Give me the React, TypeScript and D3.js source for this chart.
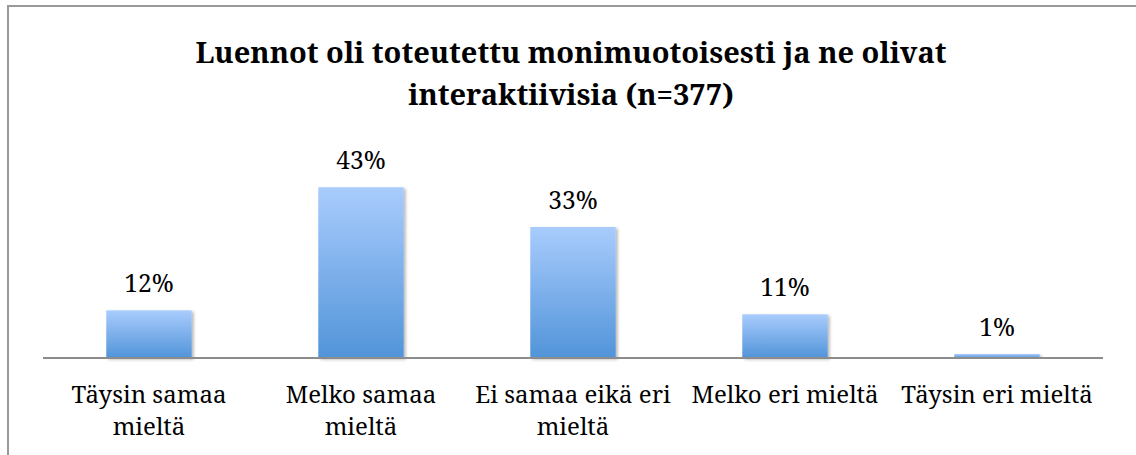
import React from "react";
import * as d3 from "d3";

const categories = [
  "Täysin samaa mieltä",
  "Melko samaa mieltä",
  "Ei samaa eikä eri mieltä",
  "Melko eri mieltä",
  "Täysin eri mieltä",
];
// how each category label wraps under the axis
const categoryLines = [
  ["Täysin samaa", "mieltä"],
  ["Melko samaa", "mieltä"],
  ["Ei samaa eikä eri", "mieltä"],
  ["Melko eri mieltä"],
  ["Täysin eri mieltä"],
];
const values = [12, 43, 33, 11, 1];
const titleLines = [
  "Luennot oli toteutettu monimuotoisesti ja ne olivat",
  "interaktiivisia (n=377)",
];

const W = 1136;
const H = 455;

export default function App() {
  const axisY = 358;
  const left = 43;
  const right = 1103;

  const xScale = d3
    .scaleBand<string>()
    .domain(categories)
    .range([left, right])
    .paddingInner(0.597)
    .paddingOuter(0.2985);

  const yScale = d3.scaleLinear().domain([0, 50]).range([axisY, axisY - 50 * 3.97]);

  const font = { fontFamily: '"Noto Serif", "Liberation Serif", serif' };

  return (
    <svg
      width={W}
      height={H}
      style={{ position: "absolute", left: 0, top: 0, background: "#fff" }}
    >
      <defs>
        <linearGradient id="barGrad" x1="0" y1="0" x2="0" y2="1">
          <stop offset="0%" stopColor="#a9ccfd" />
          <stop offset="100%" stopColor="#5194d9" />
        </linearGradient>
        <filter id="shadow" x="-20%" y="-20%" width="140%" height="140%">
          <feDropShadow dx="2" dy="1.5" stdDeviation="1.5" floodColor="#000" floodOpacity="0.28" />
        </filter>
      </defs>

      {/* chart frame, cut off at right and bottom */}
      <rect x={8} y={6} width={W + 20} height={H + 20} fill="#fff" stroke="#999" strokeWidth={2} />

      {/* title */}
      <text style={font} fontWeight="bold" fontSize={29} fill="#000" textAnchor="middle">
        <tspan x={571} y={63}>{titleLines[0]}</tspan>
        <tspan x={571} y={105}>{titleLines[1]}</tspan>
      </text>

      {/* bars */}
      <g className="bars">
        {categories.map((c, i) => (
          <rect
            key={c}
            x={xScale(c)}
            y={yScale(values[i])}
            width={xScale.bandwidth()}
            height={axisY - yScale(values[i])}
            fill="url(#barGrad)"
            filter="url(#shadow)"
          />
        ))}
      </g>

      {/* value labels */}
      <g className="values" style={font} fontSize={24.5} fill="#000" textAnchor="middle">
        {categories.map((c, i) => (
          <text key={c} x={(xScale(c) as number) + xScale.bandwidth() / 2} y={yScale(values[i]) - 18}>
            {values[i]}%
          </text>
        ))}
      </g>

      {/* axis line */}
      <path d={`M${left} ${axisY} H${right}`} stroke="#8c8c8c" strokeWidth={2} />

      {/* category labels */}
      <g className="categories" style={font} fontSize={24} fill="#000" textAnchor="middle">
        {categories.map((c, i) => (
          <text key={c}>
            {categoryLines[i].map((line, j) => (
              <tspan key={j} x={(xScale(c) as number) + xScale.bandwidth() / 2} y={403 + j * 32}>
                {line}
              </tspan>
            ))}
          </text>
        ))}
      </g>
    </svg>
  );
}
